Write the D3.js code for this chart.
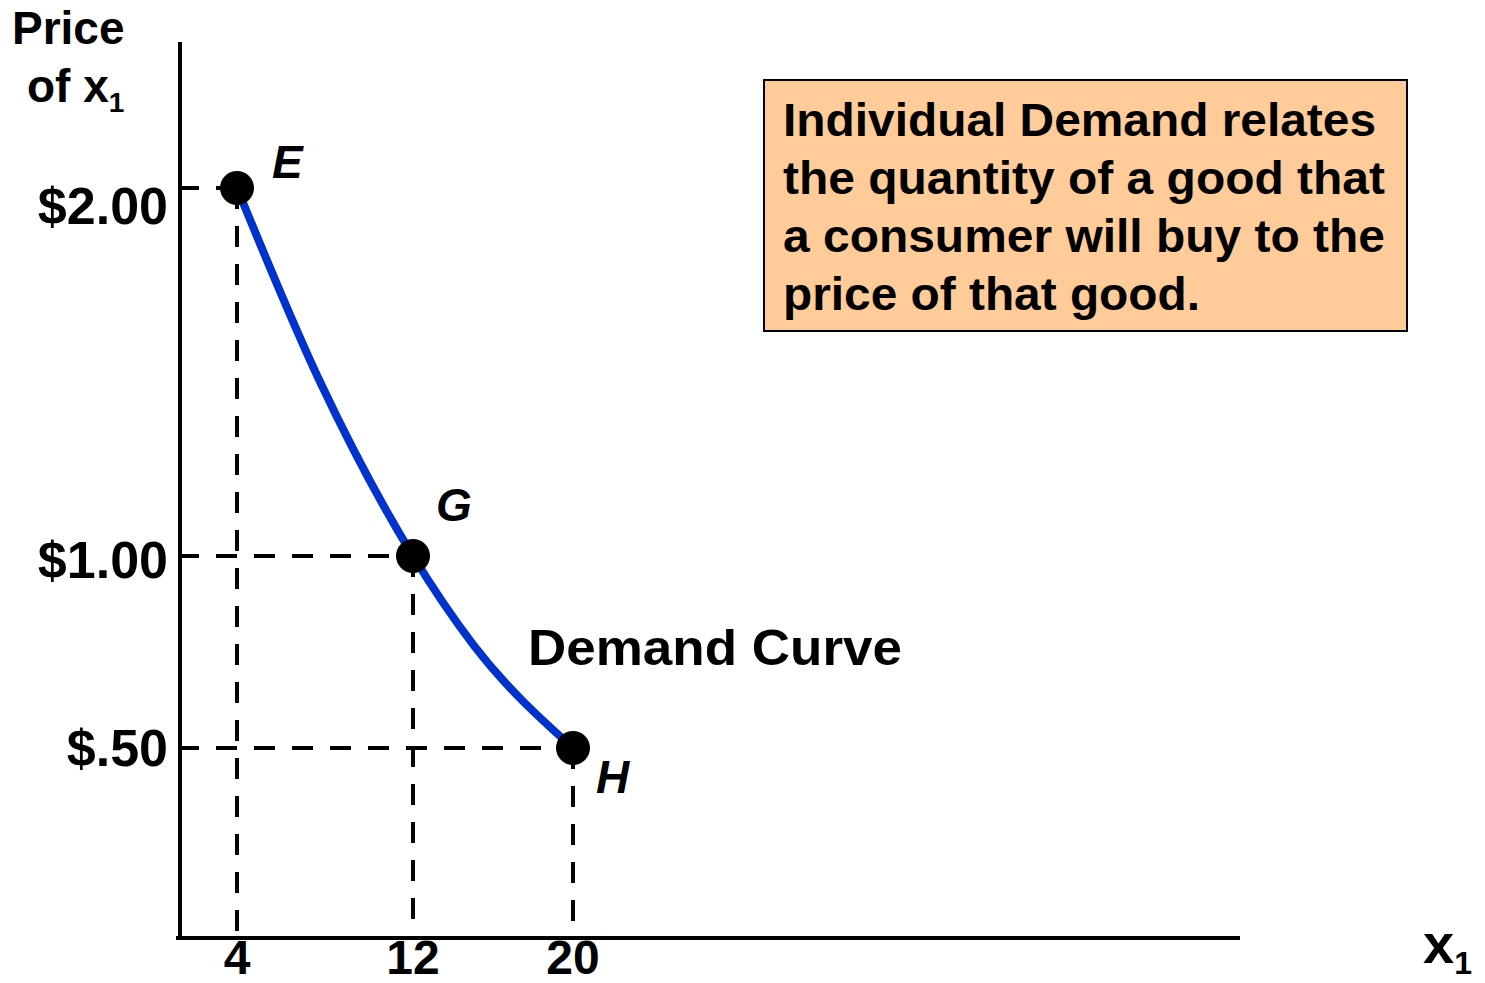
<!DOCTYPE html>
<html><head><meta charset="utf-8">
<script src="https://cdn.jsdelivr.net/npm/d3@7"></script>
<style>body{margin:0;background:#fff}svg{display:block}text{font-family:"Liberation Sans",Arial,sans-serif;font-weight:bold;fill:#000}</style>
</head><body><svg id="c" width="1485" height="983"></svg>
<script>
// Data
const quantityTicks = [4, 12, 20];
const quantityTickLabels = ["4", "12", "20"];
const priceTicks = [2.0, 1.0, 0.5];
const priceTickLabels = ["$2.00", "$1.00", "$.50"];
const pointNames = ["E", "G", "H"];
const pointQty = [4, 12, 20];
const pointPrice = [2.0, 1.0, 0.5];
const curveQty = [4, 7.8, 12, 15, 20];
const curvePrice = [2.0, 1.47, 1.0, 0.77, 0.5];
const boxLines = ["Individual Demand relates", "the quantity of a good that", "a consumer will buy to the", "price of that good."];

const svg = d3.select("#c");
const x = d3.scaleLinear().domain([4, 12, 20]).range([237, 413, 573]);
const y = d3.scaleLinear().domain([0.5, 1, 2]).range([748, 556, 188]);
const axisX0 = 180, axisY0 = 938;

// dashed guides
const pts = pointQty.map((q, i) => ({q, p: pointPrice[i], name: pointNames[i]}));
pts.forEach(d => {
  svg.append("line").attr("x1", axisX0 - 2).attr("x2", x(d.q)).attr("y1", y(d.p)).attr("y2", y(d.p))
    .attr("stroke", "#000").attr("stroke-width", 4).attr("stroke-dasharray", "21,17");
  svg.append("line").attr("x1", x(d.q)).attr("x2", x(d.q)).attr("y1", y(d.p)).attr("y2", axisY0)
    .attr("stroke", "#000").attr("stroke-width", 4).attr("stroke-dasharray", "21,17");
});

// axes
svg.append("line").attr("x1", axisX0).attr("x2", axisX0).attr("y1", 42).attr("y2", axisY0 + 2)
  .attr("stroke", "#000").attr("stroke-width", 4);
svg.append("line").attr("x1", axisX0 - 4).attr("x2", 1240).attr("y1", axisY0).attr("y2", axisY0)
  .attr("stroke", "#000").attr("stroke-width", 4);

// curve
const curveData = curveQty.map((q, i) => [q, curvePrice[i]]);
svg.append("path").datum(curveData)
  .attr("d", d3.line().x(d => x(d[0])).y(d => y(d[1])).curve(d3.curveMonotoneX))
  .attr("fill", "none").attr("stroke", "#0033CC").attr("stroke-width", 8);

// points
svg.selectAll("circle.pt").data(pts).join("circle").attr("class", "pt")
  .attr("cx", d => x(d.q)).attr("cy", d => y(d.p)).attr("r", 17).attr("fill", "#000");

// point labels
const labelOff = {E: [35, -10], G: [23, -35], H: [23, 45]};
svg.selectAll("text.pl").data(pts).join("text").attr("class", "pl")
  .attr("x", d => x(d.q) + labelOff[d.name][0]).attr("y", d => y(d.p) + labelOff[d.name][1])
  .attr("font-size", 46).attr("font-style", "italic").text(d => d.name);

// y tick labels
svg.selectAll("text.yt").data(priceTicks).join("text").attr("class", "yt")
  .attr("x", 168).attr("y", (d, i) => y(d) + (i === 0 ? 36 : i === 1 ? 22 : 18))
  .attr("text-anchor", "end").attr("font-size", 52).text((d, i) => priceTickLabels[i]);

// x tick labels
svg.selectAll("text.xt").data(quantityTicks).join("text").attr("class", "xt")
  .attr("x", d => x(d)).attr("y", 974).attr("text-anchor", "middle").attr("font-size", 48)
  .text((d, i) => quantityTickLabels[i]);

// axis titles
svg.append("text").attr("x", 12).attr("y", 44).attr("font-size", 46).text("Price");
const t2 = svg.append("text").attr("x", 27).attr("y", 102).attr("font-size", 46);
t2.append("tspan").text("of x");
t2.append("tspan").attr("font-size", 28).attr("dy", 10).text("1");
const t3 = svg.append("text").attr("x", 1423).attr("y", 963).attr("font-size", 56);
t3.append("tspan").text("x");
t3.append("tspan").attr("font-size", 32).attr("dy", 11).text("1");

// demand curve label
svg.append("text").attr("x", 528).attr("y", 665).attr("font-size", 50)
  .attr("textLength", 374).attr("lengthAdjust", "spacingAndGlyphs").text("Demand Curve");

// info box
svg.append("rect").attr("x", 764).attr("y", 80).attr("width", 643).attr("height", 251)
  .attr("fill", "#FFCC99").attr("stroke", "#000").attr("stroke-width", 2);
const boxWidths = [593, 602, 602, 417];
svg.selectAll("text.bx").data(boxLines).join("text").attr("class", "bx")
  .attr("x", 783).attr("y", (d, i) => 136 + i * 58).attr("font-size", 47)
  .attr("textLength", (d, i) => boxWidths[i]).attr("lengthAdjust", "spacingAndGlyphs").text(d => d);
</script></body></html>
